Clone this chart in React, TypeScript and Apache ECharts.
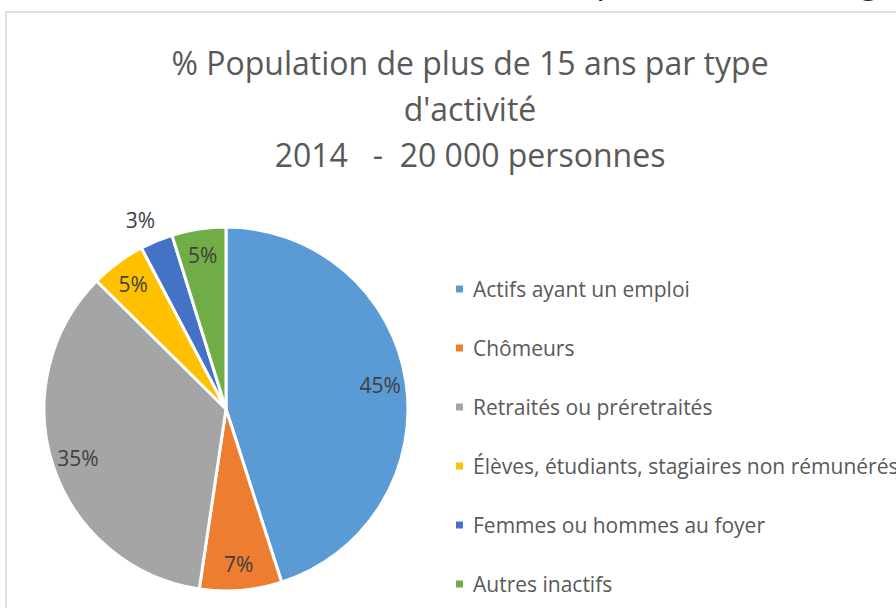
import React, { useEffect, useRef } from "react";
import * as echarts from "echarts";

const titleLines = [
  "% Population de plus de 15 ans par type",
  "d'activité",
  "2014   -  20 000 personnes",
];
const categories = [
  "Actifs ayant un emploi",
  "Chômeurs",
  "Retraités ou préretraités",
  "Élèves, étudiants, stagiaires non rémunérés",
  "Femmes ou hommes au foyer",
  "Autres inactifs",
];
const values = [45.1, 7.3, 35.1, 4.9, 2.9, 4.8];
const colors = ["#5B9BD5", "#ED7D31", "#A5A5A5", "#FFC000", "#4472C4", "#70AD47"];
const outsideLabelIndex = 4;

const FONT = "'Open Sans', 'Noto Sans', sans-serif";

export default function App() {
  const ref = useRef<HTMLDivElement>(null);
  useEffect(() => {
    if (!ref.current) return;
    const chart = echarts.init(ref.current, undefined, { renderer: "svg" });
    const center = [226, 409];
    const mainData = categories.map((name, i) => ({
      name,
      value: values[i],
      itemStyle: { color: colors[i] },
    }));
    const labelData = categories.map((name, i) => {
      const base: any = { name, value: values[i] };
      if (i === outsideLabelIndex) {
        base.label = { position: "outside", distanceToLabelLine: -7 };
        base.labelLine = { show: false, length: 22, length2: 0 };
      }
      return base;
    });
    chart.setOption({
      animation: false,
      backgroundColor: "#ffffff",
      title: {
        text: titleLines.join("\n"),
        left: 465,
        top: 34,
        textAlign: "center",
        textStyle: {
          fontFamily: FONT,
          fontSize: 32,
          fontWeight: "normal",
          color: "#595959",
          lineHeight: 46.3,
        },
      },
      legend: {
        orient: "vertical",
        left: 449,
        top: 272,
        itemWidth: 9,
        itemHeight: 9,
        itemGap: 35,
        icon: "rect",
        data: categories.map((name, i) => ({ name, itemStyle: { color: colors[i] } })),
        textStyle: {
          fontFamily: FONT,
          fontSize: 21,
          color: "#595959",
          lineHeight: 24,
          padding: [0, 0, 0, 4],
        },
      },
      graphic: [
        {
          type: "rect",
          shape: { x: 6, y: 12, width: 1200, height: 1200 },
          style: { fill: "none", stroke: "#d9d9d9", lineWidth: 1.5 },
          silent: true,
        },
        {
          type: "text",
          x: 596,
          y: -40,
          style: { text: "p", font: `36px ${FONT}`, fill: "#222" },
          silent: true,
        },
        {
          type: "text",
          x: 859,
          y: -40,
          style: { text: "g", font: `36px ${FONT}`, fill: "#222" },
          silent: true,
        },
      ],
      series: [
        {
          type: "pie",
          center,
          radius: [0, 182],
          startAngle: 90,
          clockwise: true,
          avoidLabelOverlap: false,
          label: { show: false },
          labelLine: { show: false },
          itemStyle: { borderColor: "#ffffff", borderWidth: 3 },
          emphasis: { disabled: true },
          silent: true,
          data: mainData,
        },
        {
          type: "pie",
          center,
          radius: [124, 182],
          startAngle: 90,
          clockwise: true,
          avoidLabelOverlap: false,
          percentPrecision: 0,
          itemStyle: { color: "rgba(0,0,0,0)", borderWidth: 0 },
          label: {
            show: true,
            position: "inside",
            formatter: "{d}%",
            fontFamily: FONT,
            fontSize: 21,
            color: "#404040",
          },
          labelLine: { show: false },
          emphasis: { disabled: true },
          silent: true,
          data: labelData,
        },
      ],
    });
    return () => chart.dispose();
  }, []);
  return (
    <div
      ref={ref}
      style={{ position: "absolute", left: 0, top: 0, width: 896, height: 608 }}
    />
  );
}
